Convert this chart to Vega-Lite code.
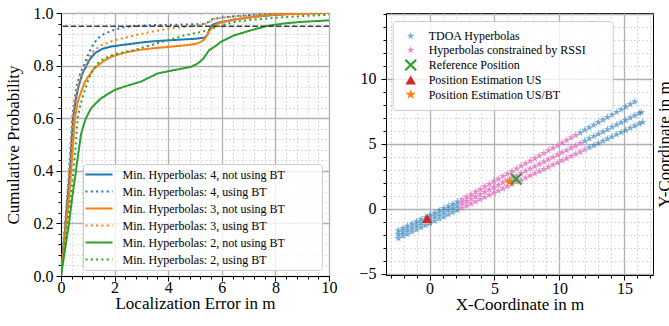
{
  "$schema": "https://vega.github.io/schema/vega-lite/v6.json",
  "padding": {"left": 3, "top": 4, "right": 0, "bottom": 0},
  "background": "white",
  "bounds": "flush",
  "spacing": 57,
  "resolve": {
    "scale": {"color": "independent", "strokeDash": "independent", "shape": "independent", "size": "independent", "opacity": "independent", "x": "independent", "y": "independent"},
    "legend": {"color": "independent", "strokeDash": "independent", "shape": "independent", "size": "independent", "opacity": "independent"}
  },
  "config": {
    "font": "Liberation Serif",
    "view": {"stroke": "black", "strokeWidth": 1},
    "axis": {
      "domainColor": "black", "domainWidth": 1, "tickColor": "black", "tickWidth": 1,
      "labelFont": "Liberation Serif", "labelFontSize": 16, "labelColor": "black",
      "titleFont": "Liberation Serif", "titleFontSize": 17, "titleFontWeight": "normal", "titleColor": "black",
      "labelFlush": false, "labelOverlap": false, "labelBound": false, "grid": true
    },
    "legend": {"labelFont": "Liberation Serif", "labelFontSize": 12, "labelColor": "black", "labelLimit": 400}
  },
  "datasets": {
    "cdf": [
      {"s":"Min. Hyperbolas: 4, not using BT","e":0,"p":0},{"s":"Min. Hyperbolas: 4, not using BT","e":0.08,"p":0.1},{"s":"Min. Hyperbolas: 4, not using BT","e":0.17,"p":0.2},{"s":"Min. Hyperbolas: 4, not using BT","e":0.25,"p":0.3},{"s":"Min. Hyperbolas: 4, not using BT","e":0.33,"p":0.4},{"s":"Min. Hyperbolas: 4, not using BT","e":0.39,"p":0.5},{"s":"Min. Hyperbolas: 4, not using BT","e":0.45,"p":0.6},{"s":"Min. Hyperbolas: 4, not using BT","e":0.55,"p":0.67},{"s":"Min. Hyperbolas: 4, not using BT","e":0.65,"p":0.72},{"s":"Min. Hyperbolas: 4, not using BT","e":0.8,"p":0.77},{"s":"Min. Hyperbolas: 4, not using BT","e":0.95,"p":0.8},{"s":"Min. Hyperbolas: 4, not using BT","e":1.1,"p":0.828},{"s":"Min. Hyperbolas: 4, not using BT","e":1.3,"p":0.85},{"s":"Min. Hyperbolas: 4, not using BT","e":1.55,"p":0.864},{"s":"Min. Hyperbolas: 4, not using BT","e":1.9,"p":0.873},{"s":"Min. Hyperbolas: 4, not using BT","e":2.4,"p":0.88},{"s":"Min. Hyperbolas: 4, not using BT","e":3.0,"p":0.888},{"s":"Min. Hyperbolas: 4, not using BT","e":3.5,"p":0.893},{"s":"Min. Hyperbolas: 4, not using BT","e":4.0,"p":0.896},{"s":"Min. Hyperbolas: 4, not using BT","e":4.5,"p":0.899},{"s":"Min. Hyperbolas: 4, not using BT","e":5.0,"p":0.902},{"s":"Min. Hyperbolas: 4, not using BT","e":5.35,"p":0.906},{"s":"Min. Hyperbolas: 4, not using BT","e":5.45,"p":0.915},{"s":"Min. Hyperbolas: 4, not using BT","e":5.55,"p":0.94},{"s":"Min. Hyperbolas: 4, not using BT","e":5.65,"p":0.955},{"s":"Min. Hyperbolas: 4, not using BT","e":5.85,"p":0.963},{"s":"Min. Hyperbolas: 4, not using BT","e":6.2,"p":0.97},{"s":"Min. Hyperbolas: 4, not using BT","e":6.6,"p":0.977},{"s":"Min. Hyperbolas: 4, not using BT","e":7.2,"p":0.985},{"s":"Min. Hyperbolas: 4, not using BT","e":7.8,"p":0.991},{"s":"Min. Hyperbolas: 4, not using BT","e":8.5,"p":0.996},{"s":"Min. Hyperbolas: 4, not using BT","e":9.3,"p":0.999},{"s":"Min. Hyperbolas: 4, not using BT","e":10,"p":1.0},
      {"s":"Min. Hyperbolas: 4, using BT","e":0,"p":0},{"s":"Min. Hyperbolas: 4, using BT","e":0.07,"p":0.1},{"s":"Min. Hyperbolas: 4, using BT","e":0.15,"p":0.2},{"s":"Min. Hyperbolas: 4, using BT","e":0.23,"p":0.3},{"s":"Min. Hyperbolas: 4, using BT","e":0.3,"p":0.4},{"s":"Min. Hyperbolas: 4, using BT","e":0.36,"p":0.5},{"s":"Min. Hyperbolas: 4, using BT","e":0.42,"p":0.6},{"s":"Min. Hyperbolas: 4, using BT","e":0.5,"p":0.67},{"s":"Min. Hyperbolas: 4, using BT","e":0.6,"p":0.73},{"s":"Min. Hyperbolas: 4, using BT","e":0.72,"p":0.77},{"s":"Min. Hyperbolas: 4, using BT","e":0.85,"p":0.8},{"s":"Min. Hyperbolas: 4, using BT","e":1.05,"p":0.85},{"s":"Min. Hyperbolas: 4, using BT","e":1.2,"p":0.88},{"s":"Min. Hyperbolas: 4, using BT","e":1.37,"p":0.903},{"s":"Min. Hyperbolas: 4, using BT","e":1.6,"p":0.92},{"s":"Min. Hyperbolas: 4, using BT","e":1.93,"p":0.934},{"s":"Min. Hyperbolas: 4, using BT","e":2.3,"p":0.945},{"s":"Min. Hyperbolas: 4, using BT","e":2.73,"p":0.951},{"s":"Min. Hyperbolas: 4, using BT","e":3.5,"p":0.954},{"s":"Min. Hyperbolas: 4, using BT","e":4.5,"p":0.956},{"s":"Min. Hyperbolas: 4, using BT","e":5.3,"p":0.958},{"s":"Min. Hyperbolas: 4, using BT","e":5.5,"p":0.965},{"s":"Min. Hyperbolas: 4, using BT","e":5.65,"p":0.976},{"s":"Min. Hyperbolas: 4, using BT","e":6.0,"p":0.983},{"s":"Min. Hyperbolas: 4, using BT","e":6.5,"p":0.988},{"s":"Min. Hyperbolas: 4, using BT","e":7.2,"p":0.993},{"s":"Min. Hyperbolas: 4, using BT","e":8.0,"p":0.997},{"s":"Min. Hyperbolas: 4, using BT","e":9.0,"p":1.0},{"s":"Min. Hyperbolas: 4, using BT","e":10,"p":1.0},
      {"s":"Min. Hyperbolas: 3, not using BT","e":0,"p":0},{"s":"Min. Hyperbolas: 3, not using BT","e":0.1,"p":0.1},{"s":"Min. Hyperbolas: 3, not using BT","e":0.2,"p":0.2},{"s":"Min. Hyperbolas: 3, not using BT","e":0.3,"p":0.3},{"s":"Min. Hyperbolas: 3, not using BT","e":0.38,"p":0.4},{"s":"Min. Hyperbolas: 3, not using BT","e":0.45,"p":0.5},{"s":"Min. Hyperbolas: 3, not using BT","e":0.52,"p":0.6},{"s":"Min. Hyperbolas: 3, not using BT","e":0.62,"p":0.66},{"s":"Min. Hyperbolas: 3, not using BT","e":0.75,"p":0.7},{"s":"Min. Hyperbolas: 3, not using BT","e":0.9,"p":0.74},{"s":"Min. Hyperbolas: 3, not using BT","e":1.06,"p":0.764},{"s":"Min. Hyperbolas: 3, not using BT","e":1.2,"p":0.785},{"s":"Min. Hyperbolas: 3, not using BT","e":1.37,"p":0.8},{"s":"Min. Hyperbolas: 3, not using BT","e":1.6,"p":0.818},{"s":"Min. Hyperbolas: 3, not using BT","e":1.86,"p":0.833},{"s":"Min. Hyperbolas: 3, not using BT","e":2.2,"p":0.844},{"s":"Min. Hyperbolas: 3, not using BT","e":2.5,"p":0.852},{"s":"Min. Hyperbolas: 3, not using BT","e":3.0,"p":0.861},{"s":"Min. Hyperbolas: 3, not using BT","e":3.35,"p":0.865},{"s":"Min. Hyperbolas: 3, not using BT","e":4.0,"p":0.871},{"s":"Min. Hyperbolas: 3, not using BT","e":4.7,"p":0.878},{"s":"Min. Hyperbolas: 3, not using BT","e":5.0,"p":0.882},{"s":"Min. Hyperbolas: 3, not using BT","e":5.22,"p":0.89},{"s":"Min. Hyperbolas: 3, not using BT","e":5.35,"p":0.9},{"s":"Min. Hyperbolas: 3, not using BT","e":5.45,"p":0.915},{"s":"Min. Hyperbolas: 3, not using BT","e":5.55,"p":0.934},{"s":"Min. Hyperbolas: 3, not using BT","e":5.7,"p":0.95},{"s":"Min. Hyperbolas: 3, not using BT","e":5.85,"p":0.96},{"s":"Min. Hyperbolas: 3, not using BT","e":6.45,"p":0.975},{"s":"Min. Hyperbolas: 3, not using BT","e":7.0,"p":0.983},{"s":"Min. Hyperbolas: 3, not using BT","e":7.7,"p":0.991},{"s":"Min. Hyperbolas: 3, not using BT","e":8.3,"p":0.995},{"s":"Min. Hyperbolas: 3, not using BT","e":8.94,"p":0.997},{"s":"Min. Hyperbolas: 3, not using BT","e":10,"p":1.0},
      {"s":"Min. Hyperbolas: 3, using BT","e":0,"p":0},{"s":"Min. Hyperbolas: 3, using BT","e":0.08,"p":0.1},{"s":"Min. Hyperbolas: 3, using BT","e":0.16,"p":0.2},{"s":"Min. Hyperbolas: 3, using BT","e":0.25,"p":0.3},{"s":"Min. Hyperbolas: 3, using BT","e":0.32,"p":0.4},{"s":"Min. Hyperbolas: 3, using BT","e":0.38,"p":0.5},{"s":"Min. Hyperbolas: 3, using BT","e":0.44,"p":0.6},{"s":"Min. Hyperbolas: 3, using BT","e":0.53,"p":0.67},{"s":"Min. Hyperbolas: 3, using BT","e":0.63,"p":0.72},{"s":"Min. Hyperbolas: 3, using BT","e":0.77,"p":0.77},{"s":"Min. Hyperbolas: 3, using BT","e":0.93,"p":0.8},{"s":"Min. Hyperbolas: 3, using BT","e":1.05,"p":0.83},{"s":"Min. Hyperbolas: 3, using BT","e":1.18,"p":0.852},{"s":"Min. Hyperbolas: 3, using BT","e":1.49,"p":0.877},{"s":"Min. Hyperbolas: 3, using BT","e":1.99,"p":0.896},{"s":"Min. Hyperbolas: 3, using BT","e":2.4,"p":0.906},{"s":"Min. Hyperbolas: 3, using BT","e":2.73,"p":0.915},{"s":"Min. Hyperbolas: 3, using BT","e":3.35,"p":0.928},{"s":"Min. Hyperbolas: 3, using BT","e":3.98,"p":0.94},{"s":"Min. Hyperbolas: 3, using BT","e":4.6,"p":0.947},{"s":"Min. Hyperbolas: 3, using BT","e":5.22,"p":0.953},{"s":"Min. Hyperbolas: 3, using BT","e":5.45,"p":0.962},{"s":"Min. Hyperbolas: 3, using BT","e":5.71,"p":0.978},{"s":"Min. Hyperbolas: 3, using BT","e":6.45,"p":0.987},{"s":"Min. Hyperbolas: 3, using BT","e":7.7,"p":0.994},{"s":"Min. Hyperbolas: 3, using BT","e":8.5,"p":0.998},{"s":"Min. Hyperbolas: 3, using BT","e":9.5,"p":1.0},{"s":"Min. Hyperbolas: 3, using BT","e":10,"p":1.0},
      {"s":"Min. Hyperbolas: 2, not using BT","e":0,"p":0},{"s":"Min. Hyperbolas: 2, not using BT","e":0.15,"p":0.1},{"s":"Min. Hyperbolas: 2, not using BT","e":0.3,"p":0.2},{"s":"Min. Hyperbolas: 2, not using BT","e":0.42,"p":0.3},{"s":"Min. Hyperbolas: 2, not using BT","e":0.56,"p":0.4},{"s":"Min. Hyperbolas: 2, not using BT","e":0.65,"p":0.47},{"s":"Min. Hyperbolas: 2, not using BT","e":0.75,"p":0.54},{"s":"Min. Hyperbolas: 2, not using BT","e":0.85,"p":0.575},{"s":"Min. Hyperbolas: 2, not using BT","e":0.93,"p":0.6},{"s":"Min. Hyperbolas: 2, not using BT","e":1.12,"p":0.637},{"s":"Min. Hyperbolas: 2, not using BT","e":1.3,"p":0.657},{"s":"Min. Hyperbolas: 2, not using BT","e":1.49,"p":0.675},{"s":"Min. Hyperbolas: 2, not using BT","e":1.75,"p":0.692},{"s":"Min. Hyperbolas: 2, not using BT","e":1.99,"p":0.707},{"s":"Min. Hyperbolas: 2, not using BT","e":2.36,"p":0.72},{"s":"Min. Hyperbolas: 2, not using BT","e":2.98,"p":0.739},{"s":"Min. Hyperbolas: 2, not using BT","e":3.3,"p":0.755},{"s":"Min. Hyperbolas: 2, not using BT","e":3.6,"p":0.77},{"s":"Min. Hyperbolas: 2, not using BT","e":4.22,"p":0.783},{"s":"Min. Hyperbolas: 2, not using BT","e":4.85,"p":0.795},{"s":"Min. Hyperbolas: 2, not using BT","e":5.1,"p":0.808},{"s":"Min. Hyperbolas: 2, not using BT","e":5.3,"p":0.825},{"s":"Min. Hyperbolas: 2, not using BT","e":5.53,"p":0.859},{"s":"Min. Hyperbolas: 2, not using BT","e":5.75,"p":0.873},{"s":"Min. Hyperbolas: 2, not using BT","e":5.96,"p":0.89},{"s":"Min. Hyperbolas: 2, not using BT","e":6.46,"p":0.915},{"s":"Min. Hyperbolas: 2, not using BT","e":7.08,"p":0.934},{"s":"Min. Hyperbolas: 2, not using BT","e":7.7,"p":0.951},{"s":"Min. Hyperbolas: 2, not using BT","e":8.3,"p":0.96},{"s":"Min. Hyperbolas: 2, not using BT","e":8.94,"p":0.966},{"s":"Min. Hyperbolas: 2, not using BT","e":10,"p":0.972},
      {"s":"Min. Hyperbolas: 2, using BT","e":0,"p":0},{"s":"Min. Hyperbolas: 2, using BT","e":0.12,"p":0.1},{"s":"Min. Hyperbolas: 2, using BT","e":0.24,"p":0.2},{"s":"Min. Hyperbolas: 2, using BT","e":0.36,"p":0.3},{"s":"Min. Hyperbolas: 2, using BT","e":0.47,"p":0.4},{"s":"Min. Hyperbolas: 2, using BT","e":0.55,"p":0.5},{"s":"Min. Hyperbolas: 2, using BT","e":0.62,"p":0.6},{"s":"Min. Hyperbolas: 2, using BT","e":0.72,"p":0.65},{"s":"Min. Hyperbolas: 2, using BT","e":0.87,"p":0.7},{"s":"Min. Hyperbolas: 2, using BT","e":1.0,"p":0.74},{"s":"Min. Hyperbolas: 2, using BT","e":1.12,"p":0.77},{"s":"Min. Hyperbolas: 2, using BT","e":1.3,"p":0.8},{"s":"Min. Hyperbolas: 2, using BT","e":1.49,"p":0.82},{"s":"Min. Hyperbolas: 2, using BT","e":1.8,"p":0.836},{"s":"Min. Hyperbolas: 2, using BT","e":2.11,"p":0.846},{"s":"Min. Hyperbolas: 2, using BT","e":2.73,"p":0.859},{"s":"Min. Hyperbolas: 2, using BT","e":3.35,"p":0.878},{"s":"Min. Hyperbolas: 2, using BT","e":3.98,"p":0.896},{"s":"Min. Hyperbolas: 2, using BT","e":4.6,"p":0.915},{"s":"Min. Hyperbolas: 2, using BT","e":5.22,"p":0.928},{"s":"Min. Hyperbolas: 2, using BT","e":5.5,"p":0.935},{"s":"Min. Hyperbolas: 2, using BT","e":5.71,"p":0.943},{"s":"Min. Hyperbolas: 2, using BT","e":6.1,"p":0.956},{"s":"Min. Hyperbolas: 2, using BT","e":6.46,"p":0.966},{"s":"Min. Hyperbolas: 2, using BT","e":7.1,"p":0.974},{"s":"Min. Hyperbolas: 2, using BT","e":7.7,"p":0.979},{"s":"Min. Hyperbolas: 2, using BT","e":8.3,"p":0.984},{"s":"Min. Hyperbolas: 2, using BT","e":8.94,"p":0.988},{"s":"Min. Hyperbolas: 2, using BT","e":10,"p":0.993}
    ],
    "pts": [
      {"x":-2.4,"y":-1.65,"s":"T"},{"x":-2.05,"y":-1.48,"s":"T"},{"x":-1.7,"y":-1.31,"s":"T"},{"x":-1.35,"y":-1.14,"s":"T"},{"x":-1.0,"y":-0.97,"s":"T"},{"x":-0.65,"y":-0.8,"s":"T"},{"x":-0.3,"y":-0.63,"s":"T"},{"x":0.05,"y":-0.46,"s":"T"},{"x":0.4,"y":-0.29,"s":"T"},{"x":0.75,"y":-0.12,"s":"T"},{"x":1.1,"y":0.05,"s":"T"},{"x":1.45,"y":0.22,"s":"T"},{"x":1.8,"y":0.38,"s":"T"},{"x":2.15,"y":0.55,"s":"T"},
      {"x":-2.4,"y":-1.95,"s":"T"},{"x":-2.05,"y":-1.78,"s":"T"},{"x":-1.7,"y":-1.61,"s":"T"},{"x":-1.35,"y":-1.44,"s":"T"},{"x":-1.0,"y":-1.27,"s":"T"},{"x":-0.65,"y":-1.1,"s":"T"},{"x":-0.3,"y":-0.93,"s":"T"},{"x":0.05,"y":-0.76,"s":"T"},{"x":0.4,"y":-0.59,"s":"T"},{"x":0.75,"y":-0.42,"s":"T"},{"x":1.1,"y":-0.25,"s":"T"},{"x":1.45,"y":-0.08,"s":"T"},{"x":1.8,"y":0.08,"s":"T"},{"x":2.15,"y":0.25,"s":"T"},
      {"x":-2.4,"y":-2.25,"s":"T"},{"x":-2.05,"y":-2.08,"s":"T"},{"x":-1.7,"y":-1.92,"s":"T"},{"x":-1.35,"y":-1.75,"s":"T"},{"x":-1.0,"y":-1.59,"s":"T"},{"x":-0.65,"y":-1.42,"s":"T"},{"x":-0.3,"y":-1.25,"s":"T"},{"x":0.05,"y":-1.09,"s":"T"},{"x":0.4,"y":-0.92,"s":"T"},{"x":0.75,"y":-0.76,"s":"T"},{"x":1.1,"y":-0.59,"s":"T"},{"x":1.45,"y":-0.43,"s":"T"},{"x":1.8,"y":-0.26,"s":"T"},{"x":2.15,"y":-0.09,"s":"T"},
      {"x":2.5,"y":0.73,"s":"R"},{"x":2.85,"y":0.93,"s":"R"},{"x":3.2,"y":1.12,"s":"R"},{"x":3.55,"y":1.32,"s":"R"},{"x":3.9,"y":1.52,"s":"R"},{"x":4.25,"y":1.72,"s":"R"},{"x":4.6,"y":1.92,"s":"R"},{"x":4.95,"y":2.11,"s":"R"},{"x":5.3,"y":2.31,"s":"R"},{"x":5.65,"y":2.51,"s":"R"},{"x":6.0,"y":2.71,"s":"R"},{"x":6.35,"y":2.9,"s":"R"},{"x":6.7,"y":3.1,"s":"R"},{"x":7.05,"y":3.3,"s":"R"},{"x":7.4,"y":3.5,"s":"R"},{"x":7.75,"y":3.69,"s":"R"},{"x":8.1,"y":3.89,"s":"R"},{"x":8.45,"y":4.09,"s":"R"},{"x":8.8,"y":4.29,"s":"R"},{"x":9.15,"y":4.49,"s":"R"},{"x":9.5,"y":4.68,"s":"R"},{"x":9.85,"y":4.88,"s":"R"},{"x":10.2,"y":5.08,"s":"R"},{"x":10.55,"y":5.28,"s":"R"},{"x":10.9,"y":5.47,"s":"R"},{"x":11.25,"y":5.67,"s":"R"},
      {"x":11.6,"y":5.87,"s":"T"},{"x":11.95,"y":6.07,"s":"T"},{"x":12.3,"y":6.27,"s":"T"},{"x":12.65,"y":6.46,"s":"T"},{"x":13.0,"y":6.66,"s":"T"},{"x":13.35,"y":6.86,"s":"T"},{"x":13.7,"y":7.06,"s":"T"},{"x":14.05,"y":7.25,"s":"T"},{"x":14.4,"y":7.45,"s":"T"},{"x":14.75,"y":7.65,"s":"T"},{"x":15.1,"y":7.85,"s":"T"},{"x":15.45,"y":8.05,"s":"T"},{"x":15.8,"y":8.24,"s":"T"},
      {"x":2.5,"y":0.43,"s":"R"},{"x":2.85,"y":0.6,"s":"R"},{"x":3.2,"y":0.78,"s":"R"},{"x":3.55,"y":0.96,"s":"R"},{"x":3.9,"y":1.14,"s":"R"},{"x":4.25,"y":1.32,"s":"R"},{"x":4.6,"y":1.49,"s":"R"},{"x":4.95,"y":1.67,"s":"R"},{"x":5.3,"y":1.85,"s":"R"},{"x":5.65,"y":2.03,"s":"R"},{"x":6.0,"y":2.2,"s":"R"},{"x":6.35,"y":2.38,"s":"R"},{"x":6.7,"y":2.56,"s":"R"},{"x":7.05,"y":2.74,"s":"R"},{"x":7.4,"y":2.92,"s":"R"},{"x":7.75,"y":3.09,"s":"R"},{"x":8.1,"y":3.27,"s":"R"},{"x":8.45,"y":3.45,"s":"R"},{"x":8.8,"y":3.63,"s":"R"},{"x":9.15,"y":3.81,"s":"R"},{"x":9.5,"y":3.98,"s":"R"},{"x":9.85,"y":4.16,"s":"R"},{"x":10.2,"y":4.34,"s":"R"},{"x":10.55,"y":4.52,"s":"R"},{"x":10.9,"y":4.7,"s":"R"},{"x":11.25,"y":4.87,"s":"R"},{"x":11.6,"y":5.05,"s":"R"},
      {"x":11.95,"y":5.23,"s":"T"},{"x":12.3,"y":5.41,"s":"T"},{"x":12.65,"y":5.59,"s":"T"},{"x":13.0,"y":5.76,"s":"T"},{"x":13.35,"y":5.94,"s":"T"},{"x":13.7,"y":6.12,"s":"T"},{"x":14.05,"y":6.3,"s":"T"},{"x":14.4,"y":6.47,"s":"T"},{"x":14.75,"y":6.65,"s":"T"},{"x":15.1,"y":6.83,"s":"T"},{"x":15.45,"y":7.01,"s":"T"},{"x":15.8,"y":7.19,"s":"T"},{"x":16.15,"y":7.36,"s":"T"},{"x":16.3,"y":7.44,"s":"T"},
      {"x":2.5,"y":0.07,"s":"R"},{"x":2.85,"y":0.24,"s":"R"},{"x":3.2,"y":0.41,"s":"R"},{"x":3.55,"y":0.57,"s":"R"},{"x":3.9,"y":0.74,"s":"R"},{"x":4.25,"y":0.9,"s":"R"},{"x":4.6,"y":1.07,"s":"R"},{"x":4.95,"y":1.24,"s":"R"},{"x":5.3,"y":1.4,"s":"R"},{"x":5.65,"y":1.57,"s":"R"},{"x":6.0,"y":1.74,"s":"R"},{"x":6.35,"y":1.9,"s":"R"},{"x":6.7,"y":2.07,"s":"R"},{"x":7.05,"y":2.23,"s":"R"},{"x":7.4,"y":2.4,"s":"R"},{"x":7.75,"y":2.57,"s":"R"},{"x":8.1,"y":2.73,"s":"R"},{"x":8.45,"y":2.9,"s":"R"},{"x":8.8,"y":3.06,"s":"R"},{"x":9.15,"y":3.23,"s":"R"},{"x":9.5,"y":3.4,"s":"R"},{"x":9.85,"y":3.56,"s":"R"},{"x":10.2,"y":3.73,"s":"R"},{"x":10.55,"y":3.89,"s":"R"},{"x":10.9,"y":4.06,"s":"R"},{"x":11.25,"y":4.23,"s":"R"},{"x":11.6,"y":4.39,"s":"R"},{"x":11.95,"y":4.56,"s":"R"},
      {"x":12.3,"y":4.73,"s":"T"},{"x":12.65,"y":4.89,"s":"T"},{"x":13.0,"y":5.06,"s":"T"},{"x":13.35,"y":5.22,"s":"T"},{"x":13.7,"y":5.39,"s":"T"},{"x":14.05,"y":5.56,"s":"T"},{"x":14.4,"y":5.72,"s":"T"},{"x":14.75,"y":5.89,"s":"T"},{"x":15.1,"y":6.05,"s":"T"},{"x":15.45,"y":6.22,"s":"T"},{"x":15.8,"y":6.39,"s":"T"},{"x":16.15,"y":6.55,"s":"T"},{"x":16.4,"y":6.67,"s":"T"},
      {"x":-0.18,"y":-0.74,"s":"U"},
      {"x":6.15,"y":2.1,"s":"B"},
      {"x":6.67,"y":2.3,"s":"X"}
    ]
  },
  "hconcat": [
    {
      "width": 268,
      "height": 263,
      "layer": [
        {
          "data": {"name": "cdf"},
          "mark": {"type": "line", "strokeWidth": 2, "clip": true},
          "encoding": {
            "x": {
              "field": "e", "type": "quantitative",
              "scale": {"domain": [0, 10], "nice": false, "zero": false},
              "axis": {
                "title": "Localization Error in m", "titleY": 19, "titleBaseline": "top",
                "values": [0,0.4,0.8,1.2,1.6,2,2.4,2.8,3.2,3.6,4,4.4,4.8,5.2,5.6,6,6.4,6.8,7.2,7.6,8,8.4,8.8,9.2,9.6,10],
                "labelPadding": -2,
                "labelExpr": "abs(datum.value/2-round(datum.value/2))<0.001 ? format(datum.value,'d') : ''",
                "gridDash": {"condition": {"test": "abs(datum.value/2-round(datum.value/2))<0.001", "value": []}, "value": [1.5, 2.5]},
                "gridColor": {"condition": {"test": "abs(datum.value/2-round(datum.value/2))<0.001", "value": "#b0b0b0"}, "value": "#c8c8c8"},
                "gridWidth": {"condition": {"test": "abs(datum.value/2-round(datum.value/2))<0.001", "value": 1.3}, "value": 0.9},
                "tickSize": {"condition": {"test": "abs(datum.value/2-round(datum.value/2))<0.001", "value": 5}, "value": 3}
              }
            },
            "y": {
              "field": "p", "type": "quantitative",
              "scale": {"domain": [0, 1], "nice": false, "zero": false},
              "axis": {
                "title": "Cumulative Probability", "titleX": -38.5, "titleY": 131.5, "titleAngle": 270, "titleBaseline": "bottom", "titleAlign": "center",
                "values": [0,0.04,0.08,0.12,0.16,0.2,0.24,0.28,0.32,0.36,0.4,0.44,0.48,0.52,0.56,0.6,0.64,0.68,0.72,0.76,0.8,0.84,0.88,0.92,0.96,1],
                "labelPadding": 3,
                "labelExpr": "abs(datum.value*5-round(datum.value*5))<0.001 ? format(datum.value,'.1f') : ''",
                "gridDash": {"condition": {"test": "abs(datum.value*5-round(datum.value*5))<0.001", "value": []}, "value": [1.5, 2.5]},
                "gridColor": {"condition": {"test": "abs(datum.value*5-round(datum.value*5))<0.001", "value": "#b0b0b0"}, "value": "#c8c8c8"},
                "gridWidth": {"condition": {"test": "abs(datum.value*5-round(datum.value*5))<0.001", "value": 1.3}, "value": 0.9},
                "tickSize": {"condition": {"test": "abs(datum.value*5-round(datum.value*5))<0.001", "value": 5}, "value": 3}
              }
            },
            "color": {
              "field": "s", "type": "nominal",
              "scale": {
                "domain": ["Min. Hyperbolas: 4, not using BT","Min. Hyperbolas: 4, using BT","Min. Hyperbolas: 3, not using BT","Min. Hyperbolas: 3, using BT","Min. Hyperbolas: 2, not using BT","Min. Hyperbolas: 2, using BT"],
                "range": ["#1f77b4","#1f77b4","#ff7f0e","#ff7f0e","#2ca02c","#2ca02c"]
              },
              "legend": {
                "title": null, "orient": "none", "legendX": 22, "legendY": 151,
                "symbolType": "M-2.7,0H2.7", "symbolSize": 100, "symbolStrokeWidth": 2.2, "symbolOffset": 5.5,
                "labelOffset": 17, "padding": 4, "rowPadding": 4,
                "fillColor": "rgba(255,255,255,0.8)", "strokeColor": "#cccccc", "cornerRadius": 3,
                "labelExpr": "datum.label + '           \u200b'"
              }
            },
            "strokeDash": {
              "field": "s", "type": "nominal",
              "scale": {
                "domain": ["Min. Hyperbolas: 4, not using BT","Min. Hyperbolas: 4, using BT","Min. Hyperbolas: 3, not using BT","Min. Hyperbolas: 3, using BT","Min. Hyperbolas: 2, not using BT","Min. Hyperbolas: 2, using BT"],
                "range": [[1,0],[2,3.3],[1,0],[2,3.3],[1,0],[2,3.3]]
              },
              "legend": {
                "title": null, "orient": "none", "legendX": 22, "legendY": 151,
                "symbolType": "M-2.7,0H2.7", "symbolSize": 100, "symbolStrokeWidth": 2.2, "symbolOffset": 5.5,
                "labelOffset": 17, "padding": 4, "rowPadding": 4,
                "fillColor": "rgba(255,255,255,0.8)", "strokeColor": "#cccccc", "cornerRadius": 3,
                "labelExpr": "datum.label + '           \u200b'"
              }
            }
          }
        },
        {
          "data": {"values": [{"p": 0.95}]},
          "mark": {"type": "rule", "strokeDash": [5.5, 2.4], "color": "#3a3a3a", "strokeWidth": 1.5},
          "encoding": {
            "y": {
              "field": "p", "type": "quantitative",
              "scale": {"domain": [0, 1], "nice": false, "zero": false},
              "axis": {
                "title": "Cumulative Probability", "titleX": -38.5, "titleY": 131.5, "titleAngle": 270, "titleBaseline": "bottom", "titleAlign": "center",
                "values": [0,0.04,0.08,0.12,0.16,0.2,0.24,0.28,0.32,0.36,0.4,0.44,0.48,0.52,0.56,0.6,0.64,0.68,0.72,0.76,0.8,0.84,0.88,0.92,0.96,1],
                "labelPadding": 3,
                "labelExpr": "abs(datum.value*5-round(datum.value*5))<0.001 ? format(datum.value,'.1f') : ''",
                "gridDash": {"condition": {"test": "abs(datum.value*5-round(datum.value*5))<0.001", "value": []}, "value": [1.5, 2.5]},
                "gridColor": {"condition": {"test": "abs(datum.value*5-round(datum.value*5))<0.001", "value": "#b0b0b0"}, "value": "#c8c8c8"},
                "gridWidth": {"condition": {"test": "abs(datum.value*5-round(datum.value*5))<0.001", "value": 1.3}, "value": 0.9},
                "tickSize": {"condition": {"test": "abs(datum.value*5-round(datum.value*5))<0.001", "value": 5}, "value": 3}
              }
            }
          }
        }
      ]
    },
    {
      "width": 267,
      "height": 262,
      "data": {"name": "pts"},
      "mark": {"type": "point", "filled": true, "clip": true, "strokeWidth": 0},
      "encoding": {
        "x": {
          "field": "x", "type": "quantitative",
          "scale": {"domain": [-3.35, 17.2], "nice": false, "zero": false},
          "axis": {
            "title": "X-Coordinate in m", "titleY": 21, "titleBaseline": "top",
            "values": [-3,-2,-1,0,1,2,3,4,5,6,7,8,9,10,11,12,13,14,15,16,17],
            "labelPadding": 0,
            "labelExpr": "datum.value % 5 == 0 ? format(datum.value,'d') : ''",
            "gridDash": {"condition": {"test": "datum.value % 5 == 0", "value": []}, "value": [1.5, 2.5]},
            "gridColor": {"condition": {"test": "datum.value % 5 == 0", "value": "#b0b0b0"}, "value": "#c8c8c8"},
            "gridWidth": {"condition": {"test": "datum.value % 5 == 0", "value": 1.3}, "value": 0.9},
            "tickSize": {"condition": {"test": "datum.value % 5 == 0", "value": 5}, "value": 3}
          }
        },
        "y": {
          "field": "y", "type": "quantitative",
          "scale": {"domain": [-5.08, 15.07], "nice": false, "zero": false},
          "axis": {
            "title": "Y-Coordinate in m", "titleX": 270.8, "titleY": 131, "titleAngle": 270, "titleBaseline": "top", "titleAlign": "center",
            "values": [-5,-4,-3,-2,-1,0,1,2,3,4,5,6,7,8,9,10,11,12,13,14,15],
            "labelPadding": 5,
            "labelExpr": "(datum.value % 5 == 0 && datum.value < 12) ? format(datum.value,'d') : ''",
            "gridDash": {"condition": {"test": "datum.value % 5 == 0", "value": []}, "value": [1.5, 2.5]},
            "gridColor": {"condition": {"test": "datum.value % 5 == 0", "value": "#b0b0b0"}, "value": "#c8c8c8"},
            "gridWidth": {"condition": {"test": "datum.value % 5 == 0", "value": 1.3}, "value": 0.9},
            "tickSize": {"condition": {"test": "datum.value % 5 == 0 && datum.value < 12", "value": 5}, "value": 3}
          }
        },
        "color": {
          "field": "s", "type": "nominal",
          "scale": {"domain": ["T","R","X","U","B"], "range": ["#1f77b4","#e377c2","#2ca02c","#d62728","#ff7f0e"]},
          "legend": {
            "title": null, "orient": "none", "legendX": 6.7, "legendY": 8, "padding": 9, "rowPadding": 2, "symbolOffset": 2, "labelOffset": 11,
            "fillColor": "rgba(255,255,255,0.8)", "strokeColor": "#cccccc", "cornerRadius": 3,
            "labelExpr": "(datum.value == 'T' ? 'TDOA Hyperbolas' : datum.value == 'R' ? 'Hyperbolas constrained by RSSI' : datum.value == 'X' ? 'Reference Position' : datum.value == 'U' ? 'Position Estimation US' : 'Position Estimation US/BT') + '      \u200b'"
          }
        },
        "shape": {
          "field": "s", "type": "nominal",
          "scale": {"domain": ["T","R","X","U","B"], "range": [
            "M0,-1L0.2245,-0.309L0.951,-0.309L0.363,0.118L0.588,0.809L0,0.382L-0.588,0.809L-0.363,0.118L-0.951,-0.309L-0.2245,-0.309Z",
            "M0,-1L0.2245,-0.309L0.951,-0.309L0.363,0.118L0.588,0.809L0,0.382L-0.588,0.809L-0.363,0.118L-0.951,-0.309L-0.2245,-0.309Z",
            "M-1,-0.75L-0.75,-1L0,-0.25L0.75,-1L1,-0.75L0.25,0L1,0.75L0.75,1L0,0.25L-0.75,1L-1,0.75L-0.25,0Z",
            "triangle-up",
            "M0,-1L0.2245,-0.309L0.951,-0.309L0.363,0.118L0.588,0.809L0,0.382L-0.588,0.809L-0.363,0.118L-0.951,-0.309L-0.2245,-0.309Z"
          ]},
          "legend": {
            "title": null, "orient": "none", "legendX": 6.7, "legendY": 8, "padding": 9, "rowPadding": 2, "symbolOffset": 2, "labelOffset": 11,
            "fillColor": "rgba(255,255,255,0.8)", "strokeColor": "#cccccc", "cornerRadius": 3,
            "labelExpr": "(datum.value == 'T' ? 'TDOA Hyperbolas' : datum.value == 'R' ? 'Hyperbolas constrained by RSSI' : datum.value == 'X' ? 'Reference Position' : datum.value == 'U' ? 'Position Estimation US' : 'Position Estimation US/BT') + '      \u200b'"
          }
        },
        "size": {
          "field": "s", "type": "nominal",
          "scale": {"type": "ordinal", "domain": ["T","R","X","U","B"], "range": [65, 65, 150, 110, 120]},
          "legend": {
            "title": null, "orient": "none", "legendX": 6.7, "legendY": 8, "padding": 9, "rowPadding": 2, "symbolOffset": 2, "labelOffset": 11,
            "fillColor": "rgba(255,255,255,0.8)", "strokeColor": "#cccccc", "cornerRadius": 3,
            "labelExpr": "(datum.value == 'T' ? 'TDOA Hyperbolas' : datum.value == 'R' ? 'Hyperbolas constrained by RSSI' : datum.value == 'X' ? 'Reference Position' : datum.value == 'U' ? 'Position Estimation US' : 'Position Estimation US/BT') + '      \u200b'"
          }
        },
        "opacity": {
          "field": "s", "type": "nominal",
          "scale": {"type": "ordinal", "domain": ["T","R","X","U","B"], "range": [0.6, 0.85, 1, 1, 1]},
          "legend": {
            "title": null, "orient": "none", "legendX": 6.7, "legendY": 8, "padding": 9, "rowPadding": 2, "symbolOffset": 2, "labelOffset": 11,
            "fillColor": "rgba(255,255,255,0.8)", "strokeColor": "#cccccc", "cornerRadius": 3,
            "labelExpr": "(datum.value == 'T' ? 'TDOA Hyperbolas' : datum.value == 'R' ? 'Hyperbolas constrained by RSSI' : datum.value == 'X' ? 'Reference Position' : datum.value == 'U' ? 'Position Estimation US' : 'Position Estimation US/BT') + '      \u200b'"
          }
        }
      }
    }
  ]
}
